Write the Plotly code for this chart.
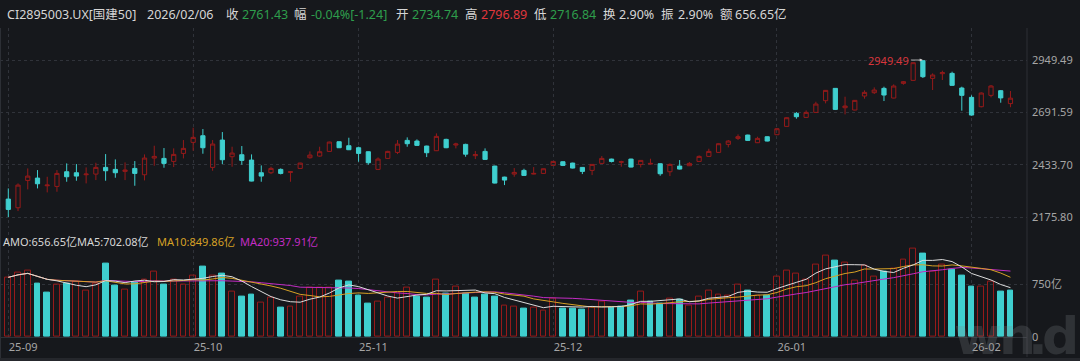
import pandas as pd
import plotly.graph_objects as go

# ---------------- data ----------------
holidays = ["2025-10-01", "2025-10-02", "2025-10-03", "2025-10-06", "2025-10-07",
            "2025-10-08", "2026-01-01", "2026-01-02"]
dates = [d.strftime("%Y-%m-%d") for d in pd.bdate_range("2025-09-04", "2026-02-06")
         if d.strftime("%Y-%m-%d") not in holidays]

opens = [2264.06, 2221.33, 2356.11, 2367.62, 2329.81, 2326.52, 2398.85, 2393.92, 2384.05, 2387.34,
         2420.22, 2410.36, 2400.50, 2415.28, 2384.05, 2466.24, 2464.60, 2449.80, 2489.25, 2543.50,
         2576.37, 2420.22, 2555.00, 2472.82, 2482.68, 2456.38, 2393.92, 2393.92, 2410.36, 2395.56,
         2415.28, 2467.88, 2476.10, 2499.11, 2546.78, 2527.05, 2517.19, 2497.47, 2410.36, 2464.60,
         2494.18, 2553.36, 2550.07, 2525.42, 2502.40, 2558.29, 2530.34, 2533.63, 2478.00, 2499.11,
         2426.79, 2372.55, 2387.34, 2405.43, 2387.34, 2390.63, 2430.08, 2448.16, 2441.58, 2420.22,
         2405.43, 2439.94, 2461.31, 2445.50, 2461.31, 2435.01, 2436.65, 2438.29, 2398.85, 2426.79,
         2428.43, 2449.80, 2474.46, 2494.18, 2533.63, 2563.22, 2579.65, 2541.85, 2571.44, 2581.30,
         2622.39, 2686.50, 2666.79, 2691.43, 2748.96, 2809.77, 2714.44, 2702.93, 2771.97, 2788.40,
         2809.77, 2762.11, 2834.43, 2849.22, 2946.00, 2859.08, 2882.10, 2883.74, 2811.42, 2765.39,
         2719.37, 2775.26, 2798.27, 2734.74]
highs = [2316.66, 2341.32, 2415.28, 2407.07, 2374.19, 2407.07, 2439.94, 2436.65, 2420.22, 2443.23,
         2485.96, 2459.66, 2444.87, 2451.45, 2484.32, 2527.05, 2515.55, 2513.91, 2555.00, 2615.82,
         2609.25, 2555.00, 2594.45, 2522.13, 2525.42, 2484.32, 2430.08, 2423.51, 2415.28, 2400.50,
         2443.23, 2499.11, 2522.13, 2546.78, 2548.50, 2566.51, 2522.13, 2499.11, 2469.53, 2502.40,
         2555.00, 2568.15, 2558.29, 2527.05, 2587.87, 2561.57, 2541.85, 2536.92, 2500.76, 2513.91,
         2428.43, 2374.19, 2416.93, 2413.64, 2421.86, 2415.00, 2451.00, 2449.80, 2443.23, 2421.86,
         2436.00, 2476.10, 2462.95, 2453.09, 2462.95, 2456.38, 2462.95, 2439.94, 2439.94, 2456.38,
         2446.52, 2479.39, 2512.26, 2538.56, 2555.00, 2582.94, 2581.30, 2571.44, 2573.08, 2614.17,
         2666.79, 2693.07, 2701.29, 2744.02, 2801.55, 2811.42, 2768.68, 2752.24, 2799.91, 2814.70,
         2818.05, 2829.50, 2845.93, 2937.96, 2949.49, 2883.74, 2896.89, 2891.96, 2818.05, 2775.26,
         2790.05, 2826.21, 2801.55, 2796.89]
lows = [2175.80, 2204.89, 2311.73, 2316.66, 2296.94, 2300.23, 2349.54, 2354.47, 2341.32, 2357.76,
        2354.47, 2369.26, 2357.76, 2329.81, 2356.11, 2428.43, 2418.56, 2421.86, 2464.60, 2502.40,
        2487.61, 2403.78, 2436.65, 2423.51, 2433.37, 2351.50, 2349.54, 2387.34, 2385.70, 2349.54,
        2414.00, 2462.95, 2472.82, 2497.47, 2515.50, 2505.69, 2448.16, 2433.37, 2407.07, 2462.95,
        2485.96, 2522.13, 2527.05, 2471.17, 2500.76, 2515.00, 2513.91, 2472.82, 2461.31, 2458.02,
        2341.32, 2333.10, 2374.19, 2379.12, 2386.00, 2389.00, 2429.00, 2426.79, 2415.28, 2387.34,
        2382.41, 2436.65, 2444.87, 2423.51, 2420.22, 2420.22, 2436.00, 2379.12, 2377.48, 2410.36,
        2427.00, 2448.16, 2472.82, 2492.54, 2518.84, 2555.00, 2551.70, 2540.21, 2548.43, 2579.65,
        2620.75, 2660.20, 2663.50, 2689.78, 2735.81, 2702.93, 2681.57, 2701.29, 2758.82, 2781.83,
        2747.31, 2760.46, 2827.85, 2847.58, 2860.73, 2801.55, 2850.87, 2822.92, 2699.65, 2674.99,
        2716.08, 2765.39, 2739.09, 2716.84]
closes = [2213.11, 2333.10, 2377.48, 2339.67, 2333.10, 2390.63, 2374.19, 2377.48, 2387.34, 2420.22,
          2403.78, 2393.92, 2407.07, 2390.63, 2466.24, 2474.46, 2439.94, 2484.32, 2513.91, 2568.15,
          2517.19, 2535.27, 2458.02, 2490.90, 2454.74, 2352.83, 2377.48, 2415.28, 2390.63, 2398.85,
          2441.58, 2481.03, 2497.47, 2545.14, 2517.19, 2507.33, 2489.25, 2443.23, 2461.31, 2499.11,
          2535.00, 2537.00, 2528.70, 2492.54, 2573.08, 2517.19, 2535.27, 2485.50, 2483.00, 2459.66,
          2342.96, 2357.76, 2395.56, 2380.77, 2390.63, 2413.64, 2449.80, 2430.08, 2416.93, 2400.50,
          2435.01, 2464.60, 2449.50, 2448.00, 2421.86, 2454.74, 2439.94, 2388.98, 2435.01, 2412.00,
          2439.94, 2474.46, 2499.11, 2536.92, 2550.07, 2571.44, 2553.36, 2563.22, 2550.07, 2610.89,
          2665.15, 2670.06, 2691.43, 2732.52, 2799.91, 2706.22, 2722.66, 2750.60, 2790.05, 2801.55,
          2776.90, 2821.28, 2842.65, 2936.30, 2867.30, 2875.52, 2887.03, 2824.57, 2775.26, 2678.28,
          2786.76, 2821.28, 2762.67, 2761.43]
amounts = [849, 920, 948, 755, 632, 741, 764, 788, 656, 764,
           1042, 726, 679, 774, 821, 934, 741, 811, 750, 877,
           995, 873, 896, 646, 571, 604, 495, 557, 420, 434,
           571, 708, 708, 708, 802, 783, 585, 481, 509, 557,
           637, 708, 575, 561, 811, 623, 722, 623, 561, 604,
           575, 453, 434, 406, 420, 373, 552, 406, 406, 392,
           420, 509, 420, 434, 524, 651, 509, 476, 542, 528,
           453, 571, 665, 604, 594, 741, 665, 594, 590, 858,
           939, 906, 811, 1033, 1160, 1089, 1056, 806, 1019, 858,
           929, 976, 1108, 1259, 1183, 925, 1037, 962, 881, 716,
           716, 782, 640, 656.65]

month_ticks = ["2025-09-04", "2025-10-09", "2025-11-03", "2025-12-01", "2026-01-05", "2026-02-02"]
month_labels = ["25-09", "25-10", "25-11", "25-12", "26-01", "26-02"]
price_ticks = [2175.80, 2433.70, 2691.59, 2949.49]
amo_ticks = [0, 750, 1500]
amo_labels = ["0", "750亿", ""]

# ---------------- styles ----------------
BG = "#16181c"
GRID = "#30333a"
RED = "#961a1a"
CYAN = "#3fcfcf"
GREEN = "#2e9e4c"
HRED = "#e0363c"
TXT = "#d6d6d6"
AX = "#a6a6a6"
FONT = "Noto Sans, Noto Sans CJK SC, sans-serif"

W_PLOT = 1027.0
T, B = 28, 337
H_PLOT = B - T

vol_up = [True] + [closes[i] >= closes[i - 1] for i in range(1, len(closes))]
bar_fill = ["rgba(0,0,0,0)" if u else CYAN for u in vol_up]
bar_line = [RED if u else CYAN for u in vol_up]

s = pd.Series(amounts)
ma5 = s.rolling(5, min_periods=1).mean()
ma10 = s.rolling(10, min_periods=1).mean()
ma20 = s.rolling(20, min_periods=1).mean()

fig = go.Figure()
fig.add_trace(go.Candlestick(
    x=dates, open=opens, high=highs, low=lows, close=closes,
    increasing=dict(line=dict(color=RED, width=1), fillcolor="rgba(0,0,0,0)"),
    decreasing=dict(line=dict(color=CYAN, width=1), fillcolor=CYAN),
    whiskerwidth=0, xaxis="x", yaxis="y", hoverinfo="skip", showlegend=False))

fig.add_trace(go.Bar(
    x=dates, y=amounts, width=0.6,
    marker=dict(color=bar_fill, line=dict(color=bar_line, width=1)),
    xaxis="x2", yaxis="y2", hoverinfo="skip", showlegend=False))

for ma, col in [(ma20, "#c42cc4"), (ma10, "#d7a125"), (ma5, "#dcdcdc")]:
    fig.add_trace(go.Scatter(x=dates, y=ma, mode="lines", line=dict(color=col, width=1),
                             xaxis="x2", yaxis="y2", hoverinfo="skip", showlegend=False))

xr = [-0.853, 104.7]
xcommon = dict(type="category", range=xr, tickvals=month_ticks, showgrid=True, griddash="dot",
               gridcolor=GRID, gridwidth=1, zeroline=False, fixedrange=True)
fig.update_layout(
    width=1080, height=361,
    margin=dict(l=0, r=53, t=T, b=361 - B),
    paper_bgcolor=BG, plot_bgcolor=BG,
    font=dict(family=FONT, color=AX, size=11),
    bargap=0, boxgap=0.38,
    xaxis=dict(domain=[0, 1], anchor="y", showticklabels=False, rangeslider=dict(visible=False),
               **xcommon),
    xaxis2=dict(domain=[0, 1], anchor="y2", ticktext=month_labels, showticklabels=True,
                ticklabelposition="outside right", tickfont=dict(size=11, color=AX),
                showline=True, linecolor="#2e3137", linewidth=1, ticks="", **xcommon),
    yaxis=dict(domain=[1 - 200 / H_PLOT, 1], anchor="x", side="right",
               range=[2121.56, 3107.3], tickvals=price_ticks,
               ticktext=[f"{v:.2f}" for v in price_ticks],
               tickfont=dict(size=11, color=AX), showgrid=True, griddash="dot",
               gridcolor=GRID, zeroline=False, ticklabelstandoff=4, fixedrange=True),
    yaxis2=dict(domain=[0, (B - 231.6) / H_PLOT], anchor="x2", side="right",
                range=[0, 1500], tickvals=amo_ticks, ticktext=amo_labels,
                tickfont=dict(size=11, color=AX), showgrid=True, griddash="dot",
                gridcolor=GRID, zeroline=False, ticklabelstandoff=4, fixedrange=True),
)

def py(pix):
    return (B - pix) / H_PLOT

def px(pix):
    return pix / W_PLOT

ann = []

# watermark glyphs (drawn first, faint)
for ch, wx in [("w", 953), ("n", 998), (".", 1027), ("d", 1041)]:
    ann.append(dict(text="<b>" + ch + "</b>", x=px(wx), y=py(305), xref="paper", yref="paper",
                    xanchor="left", yanchor="top", showarrow=False, borderpad=0,
                    font=dict(color="rgba(130,132,140,0.24)", size=52, family="DejaVu Sans")))

def text(t, x, y, color=TXT, size=12.5):
    ann.append(dict(text=t, x=px(x), y=py(y), xref="paper", yref="paper", xanchor="left",
                    yanchor="middle", showarrow=False, font=dict(color=color, size=size, family=FONT),
                    borderpad=0))

HY = 14
text("CI2895003.UX[国建50]", 6, HY)
text("2026/02/06", 146, HY)
for lab, lx, val, vx, col in [
        ("收", 225, "2761.43", 241, GREEN),
        ("幅", 293, "-0.04%[-1.24]", 310, GREEN),
        ("开", 395, "2734.74", 411, GREEN),
        ("高", 464, "2796.89", 480, HRED),
        ("低", 533, "2716.84", 549, GREEN),
        ("换", 602, "2.90%", 618, TXT),
        ("振", 660, "2.90%", 677, TXT),
        ("额", 719, "656.65亿", 734, TXT)]:
    text(lab, lx, HY)
    text(val, vx, HY, color=col)

text("AMO:656.65亿MA5:702.08亿", 2, 241, color=TXT, size=11)
text("MA10:849.86亿", 156, 241, color="#d7a125", size=11)
text("MA20:937.91亿", 239, 241, color="#c42cc4", size=11)

# max price marker
ann.append(dict(x=dates[highs.index(max(highs))], y=max(highs), xref="x", yref="y",
                text=f"{max(highs):.2f}", showarrow=True, ax=-12, ay=0, xanchor="right",
                arrowhead=2, arrowsize=0.8, arrowwidth=0.8, arrowcolor="#cfcfcf",
                font=dict(color="#d9363c", size=11, family=FONT), standoff=0))

fig.update_layout(annotations=ann)

fig.update_layout(shapes=[
    dict(type="line", xref="paper", yref="paper", x0=0.0005, x1=0.0005, y0=py(361), y1=1,
         line=dict(color="#2c2f35", width=1)),
    dict(type="line", xref="paper", yref="paper", x0=1, x1=1, y0=py(357), y1=1,
         line=dict(color="#2c2f35", width=1)),
    dict(type="rect", xref="paper", yref="paper", x0=0, x1=px(1080), y0=py(361), y1=py(358),
         line=dict(width=0), fillcolor="#25272c"),
])

fig.write_html("out.html", config={"displayModeBar": False},
               post_script="document.body.style.margin='0px';"
                           "document.body.style.overflow='hidden';"
                           "document.body.style.background='" + BG + "';")
